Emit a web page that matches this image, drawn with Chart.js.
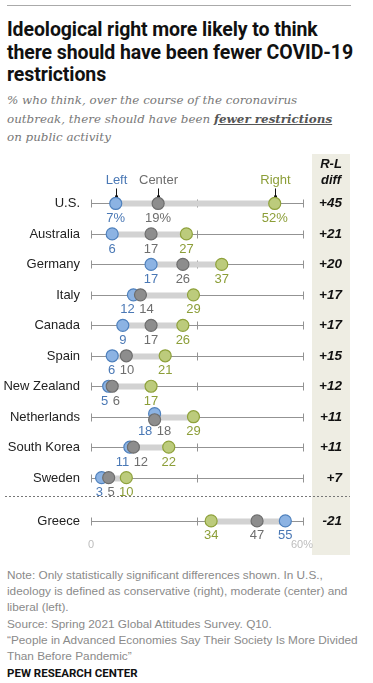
<!DOCTYPE html>
<html><head><meta charset="utf-8">
<script src="https://cdn.jsdelivr.net/npm/chart.js@4"></script>
<style>
html,body{margin:0;padding:0;background:#fff;width:373px;height:683px;overflow:hidden;}
#rule{position:absolute;left:7px;top:5px;width:344px;height:1px;background:#aaa;}
#title{position:absolute;left:7px;top:19px;width:360px;font-family:"Roboto","Liberation Sans",sans-serif;font-weight:700;font-size:19.5px;line-height:22.5px;color:#111;letter-spacing:-0.1px;}
#sub{position:absolute;left:7px;top:91px;width:362px;font-family:"DejaVu Serif","Liberation Serif",serif;font-style:italic;font-size:11.9px;line-height:18.5px;color:#777;}
#sub b{color:#555;text-decoration:underline;}
#wrap{position:absolute;left:0;top:150px;width:373px;height:411px;}
#notes{position:absolute;left:7px;top:567px;width:366px;font-family:"Liberation Sans","Roboto",sans-serif;font-size:11.8px;line-height:16.2px;color:#8a8a8a;white-space:nowrap;}
#pew{position:absolute;left:7px;top:666px;font-family:"Roboto","Liberation Sans",sans-serif;font-weight:700;font-size:11.5px;color:#111;}
</style></head>
<body>
<div id="rule"></div>
<div id="title">Ideological right more likely to think there should have been fewer COVID-19 restrictions</div>
<div id="sub">% who think, over the course of the coronavirus<br>outbreak, there should have been <b>fewer restrictions</b><br>on public activity</div>
<div id="wrap"><canvas id="c" width="373" height="411"></canvas></div>
<div id="notes">Note: Only statistically significant differences shown. In U.S.,<br>ideology is defined as conservative (right), moderate (center) and<br>liberal (left).<br>Source: Spring 2021 Global Attitudes Survey. Q10.<br>“People in Advanced Economies Say Their Society Is More Divided<br>Than Before Pandemic”</div>
<div id="pew">PEW RESEARCH CENTER</div>
<script>
const countries = ["U.S.","Australia","Germany","Italy","Canada","Spain","New Zealand","Netherlands","South Korea","Sweden","Greece"];
const leftVals   = [7, 6, 17, 12, 9, 6, 5, 18, 11, 3, 55];
const centerVals = [19, 17, 26, 14, 17, 10, 6, 18, 12, 5, 47];
const rightVals  = [52, 27, 37, 29, 26, 21, 17, 29, 22, 10, 34];
const diffLabels = ["+45","+21","+20","+17","+17","+15","+12","+11","+11","+7","-21"];
const seriesNames = ["Left","Center","Right"];
const xTicks = [0, 30, 60];
const xTickLabels = ["0", "", "60%"];

const COLORS = {
  Left:   {fill:"#8cb3e3", border:"#4f81bd", text:"#4a78b5"},
  Center: {fill:"#8d8d8d", border:"#6e6e6e", text:"#6e6e6e"},
  Right:  {fill:"#bccb7c", border:"#8fa23c", text:"#8c9e38"}
};
// row position: Greece separated by an extra gap
const GAP_AFTER = 9, GAP = 0.42;
const rowPos = i => i + (i > GAP_AFTER ? GAP : 0);
const tieOffset = (i, which) => (leftVals[i] === centerVals[i]) ? (which === 'Left' ? -0.1 : which === 'Center' ? 0.1 : 0) : 0;

function mk(name, vals, order){
  return {
    label: name, order,
    data: vals.map((v,i)=>({x:v, y:rowPos(i)+tieOffset(i,name)})),
    backgroundColor: COLORS[name].fill, borderColor: COLORS[name].border,
    borderWidth: 1.2, pointRadius: 6, pointHoverRadius: 6
  };
}

const FONT = '"Liberation Sans","Roboto",sans-serif';
const decor = {
  id:'decor',
  beforeDatasetsDraw(chart){
    const {ctx, scales:{x,y}} = chart;
    ctx.save();
    // shaded diff column
    ctx.fillStyle = "#eeede3";
    ctx.fillRect(312, 4, 38, 401);
    // header
    ctx.fillStyle = "#111";
    ctx.font = 'italic bold 13px ' + FONT;
    ctx.textAlign = 'center'; ctx.textBaseline='middle';
    ctx.fillText("R-L", 331, 14);
    ctx.fillText("diff", 331, 30);
    // separator
    ctx.strokeStyle = "#777"; ctx.lineWidth = 1; ctx.setLineDash([2,2]);
    const ys = (y.getPixelForValue(rowPos(GAP_AFTER)) + y.getPixelForValue(rowPos(GAP_AFTER+1)))/2 - 3;
    ctx.beginPath(); ctx.moveTo(5, Math.round(ys)+0.5); ctx.lineTo(350, Math.round(ys)+0.5); ctx.stroke();
    ctx.setLineDash([]);
    const x0 = x.getPixelForValue(xTicks[0]), x1 = x.getPixelForValue(xTicks[xTicks.length-1]);
    countries.forEach((c,i)=>{
      const py = Math.round(y.getPixelForValue(rowPos(i))) + 0.5;
      ctx.strokeStyle = "#939393"; ctx.lineWidth = 1;
      ctx.beginPath(); ctx.moveTo(x0, py); ctx.lineTo(x1, py); ctx.stroke();
      xTicks.forEach(t=>{
        const tx = Math.round(x.getPixelForValue(t))+0.5;
        ctx.beginPath(); ctx.moveTo(tx, py-4); ctx.lineTo(tx, py+4); ctx.stroke();
      });
      // range bar
      const mn = Math.min(leftVals[i], centerVals[i], rightVals[i]);
      const mx = Math.max(leftVals[i], centerVals[i], rightVals[i]);
      ctx.strokeStyle = "#d2d2d2"; ctx.lineWidth = 6;
      ctx.beginPath(); ctx.moveTo(x.getPixelForValue(mn), py); ctx.lineTo(x.getPixelForValue(mx), py); ctx.stroke();
      // country label
      ctx.fillStyle = "#222"; ctx.font = '13px ' + FONT;
      ctx.textAlign = 'right'; ctx.textBaseline = 'middle';
      ctx.fillText(c, 80, py);
      // diff
      ctx.font = 'italic bold 13.5px ' + FONT;
      ctx.fillStyle = "#111";
      ctx.fillText(diffLabels[i], 342, py);
    });
    // axis labels
    ctx.fillStyle = "#bdbdbd"; ctx.font = '11px ' + FONT; ctx.textAlign='center'; ctx.textBaseline='middle';
    const lastY = y.getPixelForValue(rowPos(countries.length-1));
    xTicks.forEach((t,k)=>{ if (xTickLabels[k]) ctx.fillText(xTickLabels[k], x.getPixelForValue(t) + (k===xTicks.length-1?-1:0), lastY+24); });
    // legend above first row
    const fy = y.getPixelForValue(rowPos(0));
    const series = {Left:leftVals, Center:centerVals, Right:rightVals};
    seriesNames.forEach(n=>{
      const px = Math.round(x.getPixelForValue(series[n][0]))+0.5;
      ctx.fillStyle = COLORS[n].text; ctx.font = '13px ' + FONT; ctx.textAlign='center';
      ctx.fillText(n, px, fy-23);
      ctx.strokeStyle = "#111"; ctx.lineWidth = 1;
      ctx.beginPath(); ctx.moveTo(px, fy-15); ctx.lineTo(px, fy-6); ctx.stroke();
      ctx.fillStyle="#111"; ctx.fillRect(px-1.5, fy-8, 3, 2.5);
    });
    ctx.restore();
  },
  afterDatasetsDraw(chart){
    const {ctx, scales:{x,y}} = chart;
    ctx.save();
    ctx.font = '13px ' + FONT; ctx.textBaseline='middle'; ctx.textAlign='center';
    const series = {Left:leftVals, Center:centerVals, Right:rightVals};
    countries.forEach((c,i)=>{
      const py = y.getPixelForValue(rowPos(i)) + 15;
      let labs = seriesNames.map(n=>{
        const txt = series[n][i] + (i===0 ? "%" : "");
        return {n, txt, cx:x.getPixelForValue(series[n][i]), w:ctx.measureText(txt).width};
      }).sort((a,b)=>a.cx-b.cx);
      // resolve overlaps
      for (let it=0; it<30; it++){
        let moved=false;
        for (let k=0;k<labs.length-1;k++){
          const a=labs[k], b=labs[k+1];
          const need = (a.w+b.w)/2 + 4.5;
          const d = b.cx - a.cx;
          if (d < need - 0.01){ const s=(need-d)/2; a.cx-=s; b.cx+=s; moved=true; }
        }
        if(!moved) break;
      }
      labs.forEach(l=>{ ctx.fillStyle = COLORS[l.n].text; ctx.fillText(l.txt, l.cx, py); });
    });
    ctx.restore();
  }
};

new Chart(document.getElementById('c'), {
  type:'scatter',
  data:{ datasets:[ mk("Left", leftVals, 3), mk("Center", centerVals, 2), mk("Right", rightVals, 1) ] },
  options:{
    responsive:false, animation:false, devicePixelRatio:1,
    layout:{padding:{left:91, right:70, top:23, bottom:0}},
    plugins:{legend:{display:false}, tooltip:{enabled:false}},
    scales:{
      x:{type:'linear', min:0, max:60, display:false},
      y:{type:'linear', min:-1, max:11.5, reverse:true, display:false}
    }
  },
  plugins:[decor]
});
</script>
</body></html>
